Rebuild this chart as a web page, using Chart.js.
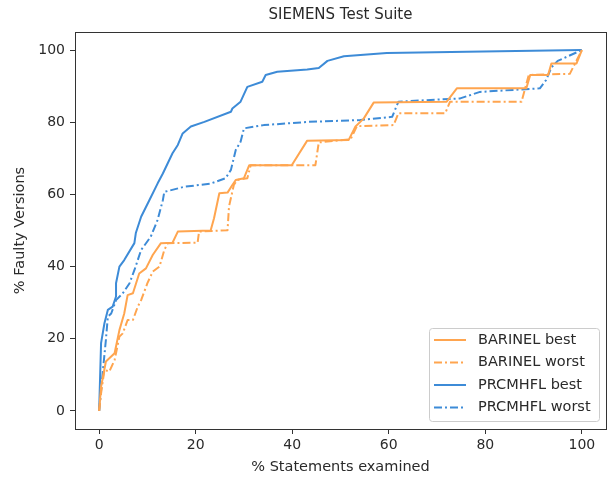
<!DOCTYPE html>
<html>
<head>
<meta charset="utf-8">
<script src="https://cdn.jsdelivr.net/npm/chart.js@4.4.1/dist/chart.umd.min.js"></script>
<style>
html,body{margin:0;padding:0;background:#fff;}
canvas{display:block;}
</style>
</head>
<body>
<canvas id="c" width="608" height="477"></canvas>
<script>
// ---- data ----
const chartTitle = "SIEMENS Test Suite";
const xTitle = "% Statements examined";
const yTitle = "% Faulty Versions";
const xTicks = [0, 20, 40, 60, 80, 100];
const yTicks = [0, 20, 40, 60, 80, 100];
const seriesLabels = ["BARINEL best", "BARINEL worst", "PRCMHFL best", "PRCMHFL worst"];

const barinelBestX = [0,0.4,1.4,3.2,4.2,5.2,5.9,7,8.3,9.7,11.1,12.8,15.2,16.3,23.1,23.8,24.9,26.6,27.6,28.3,30,31.1,39.9,43.1,51.7,53.1,54.8,56.9,72,74.1,88.5,89.3,93,93.7,98.9,100];
const barinelBestY = [0,6.7,13.7,16,22.4,27,32.1,32.6,38.1,39.5,43.2,46.5,46.6,49.7,50,53.4,60.3,60.5,62.6,64,64.5,68.1,68.1,74.9,75.1,78.8,81,85.5,85.7,89.4,89.4,93.1,93.1,96.3,96.3,100];

const barinelWorstX = [0,0.4,1.1,2.1,3.2,4.2,4.9,5.9,7,8,8.7,10,11.1,12.5,13.5,14.2,20.4,20.7,26.6,26.9,27.6,27.9,28.6,30.7,31.4,44.8,45.5,52.1,53.4,61,62,71.7,72.7,87.5,89,97.5,100];
const barinelWorstY = [0,4.9,11.4,10.9,14.1,20.6,21.5,25.2,25.2,28.9,30.7,35.4,38.6,40,44.6,46.5,46.6,49.7,50.1,56.6,60.8,62.6,64,64.5,68.1,68.1,74.4,75.3,78.9,79.2,82.5,82.5,85.7,85.7,93.1,93.4,100];

const prcBestX = [0,0.4,1.1,1.8,2.8,3.5,3.5,4.2,5.2,7.3,7.6,8.7,10.4,12.1,13.2,15.2,16.3,17.3,19,21.8,27.3,27.6,29.3,30.7,33.8,34.5,36.9,43.1,45.5,47.3,50.7,59.6,76.2,100];
const prcBestY = [0,18.8,24.3,28,28.9,31.7,35.4,40,41.8,46.5,49.3,53.8,58.4,63,65.8,71.4,73.7,76.9,78.8,80.1,82.9,83.8,85.7,89.8,91.2,93.1,94,94.6,95,97,98.3,99.2,99.5,100];

const prcWorstX = [0,0.8,1.4,1.8,2.5,3.5,4.9,6.3,7.3,8.7,10.7,12.1,13.2,13.5,17.6,23.1,26.2,27.3,28.3,29.3,30,34.1,43.4,54.1,60.7,62,74.8,78.9,91.3,92.6,93.7,95,100];
const prcWorstY = [0,11.4,19.7,26.1,27,30.7,32.6,35.4,39,44.6,48.3,52.9,58.4,60.7,62.1,63,64.5,66.8,72.3,74.6,78.3,79.2,80.1,80.6,81.5,85.7,86.6,88.4,89.4,91.7,95.2,97,100];

// ---- styles ----
const ORANGE = "#ffa54f";
const BLUE = "#3d8bd7";
const DASHDOT = [8, 3, 2, 3];
const TEXT = "#2a2a2a";
const AXIS = "#333333";
const FONT = "DejaVu Sans";

const pts = (xs, ys) => xs.map((x, i) => ({x: x, y: ys[i]}));

const datasets = [
  {label: seriesLabels[0], data: pts(barinelBestX, barinelBestY), borderColor: ORANGE, borderDash: []},
  {label: seriesLabels[1], data: pts(barinelWorstX, barinelWorstY), borderColor: ORANGE, borderDash: DASHDOT},
  {label: seriesLabels[2], data: pts(prcBestX, prcBestY), borderColor: BLUE, borderDash: []},
  {label: seriesLabels[3], data: pts(prcWorstX, prcWorstY), borderColor: BLUE, borderDash: DASHDOT}
].map(d => Object.assign(d, {borderWidth: 2, pointRadius: 0, tension: 0, fill: false, borderCapStyle: 'butt', borderJoinStyle: 'round'}));

const framePlugin = {
  id: 'frame',
  afterDraw(chart) {
    const {ctx, chartArea: a} = chart;
    ctx.save();
    // frame
    ctx.strokeStyle = AXIS;
    ctx.lineWidth = 1;
    ctx.strokeRect(Math.round(a.left) + 0.5, Math.round(a.top) + 0.5, Math.round(a.right - a.left), Math.round(a.bottom - a.top));
    // title
    ctx.fillStyle = TEXT;
    ctx.font = "15px '" + FONT + "'";
    ctx.textAlign = 'center';
    ctx.textBaseline = 'middle';
    ctx.fillText(chartTitle, (a.left + a.right) / 2, 15);
    // legend
    const bx = 429.5, by = 328.5, bw = 170, bh = 93, r = 3;
    ctx.beginPath();
    ctx.moveTo(bx + r, by);
    ctx.arcTo(bx + bw, by, bx + bw, by + bh, r);
    ctx.arcTo(bx + bw, by + bh, bx, by + bh, r);
    ctx.arcTo(bx, by + bh, bx, by, r);
    ctx.arcTo(bx, by, bx + bw, by, r);
    ctx.closePath();
    ctx.fillStyle = 'rgba(255,255,255,0.8)';
    ctx.fill();
    ctx.strokeStyle = '#cccccc';
    ctx.stroke();
    const rows = [340, 362.5, 385, 407.5];
    chart.data.datasets.forEach((ds, i) => {
      ctx.beginPath();
      ctx.setLineDash(ds.borderDash || []);
      ctx.strokeStyle = ds.borderColor;
      ctx.lineWidth = 2;
      ctx.moveTo(434, rows[i]);
      ctx.lineTo(466, rows[i]);
      ctx.stroke();
      ctx.setLineDash([]);
      ctx.fillStyle = TEXT;
      ctx.font = "14.5px '" + FONT + "'";
      ctx.textAlign = 'left';
      ctx.textBaseline = 'middle';
      ctx.fillText(ds.label, 478, rows[i]);
    });
    ctx.restore();
  }
};

new Chart(document.getElementById('c'), {
  type: 'line',
  data: {datasets: datasets},
  options: {
    responsive: false,
    animation: false,
    devicePixelRatio: 1,
    layout: {padding: {top: 32, right: 2, left: 0, bottom: 0}},
    plugins: {legend: {display: false}, title: {display: false}, tooltip: {enabled: false}},
    scales: {
      x: {
        type: 'linear',
        min: -5, max: 105,
        afterBuildTicks: s => { s.ticks = xTicks.map(v => ({value: v})); },
        afterFit: s => { s.height = 48; },
        grid: {display: true, drawOnChartArea: false, drawTicks: true, tickLength: 5, color: AXIS},
        border: {display: true, color: AXIS, width: 1},
        ticks: {color: TEXT, font: {family: FONT, size: 14}, padding: 3, maxRotation: 0},
        title: {display: true, text: xTitle, color: TEXT, font: {family: FONT, size: 14.5}, padding: {top: 0, bottom: 1}}
      },
      y: {
        type: 'linear',
        min: -5, max: 105,
        afterBuildTicks: s => { s.ticks = yTicks.map(v => ({value: v})); },
        afterFit: s => { s.width = 75; },
        grid: {display: true, drawOnChartArea: false, drawTicks: true, tickLength: 5, color: AXIS},
        border: {display: true, color: AXIS, width: 1},
        ticks: {color: TEXT, font: {family: FONT, size: 14}, padding: 5},
        title: {display: true, text: yTitle, color: TEXT, font: {family: FONT, size: 14.5}, padding: {top: 12, bottom: 0}}
      }
    }
  },
  plugins: [framePlugin]
});
</script>
</body>
</html>
